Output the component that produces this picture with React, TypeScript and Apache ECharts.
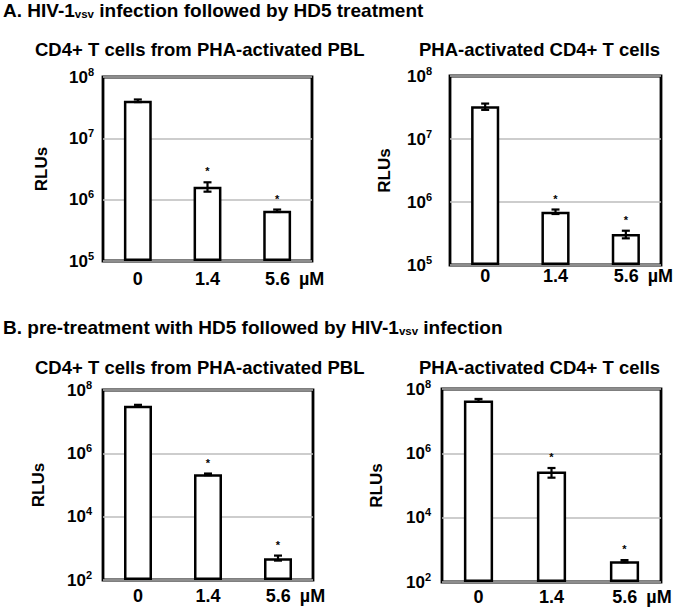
import React, { useEffect, useRef } from 'react';
import * as echarts from 'echarts';

// ---- data ----
const categories = ['0', '1.4', '5.6'];
const unitLabel = 'µM';
const significant = [false, true, true];
const yAxisTitle = 'RLUs';

const titleA = 'A. HIV-1{sub|vsv} infection followed by HD5 treatment';
const titleB = 'B. pre-treatment with HD5 followed by HIV-1{sub|vsv} infection';
const subtitlePbl = 'CD4+ T cells from PHA-activated PBL';
const subtitleCd4 = 'PHA-activated CD4+ T cells';

// A: HIV-1vsv infection followed by HD5 treatment
const aPblMean = [4.1e7, 1.63e6, 6.6e5];
const aPblLow = [3.9e7, 1.35e6, 6.3e5];
const aPblHigh = [4.3e7, 1.92e6, 6.9e5];

const aCd4Mean = [3.3e7, 7.0e5, 3.1e5];
const aCd4Low = [2.9e7, 6.45e5, 2.65e5];
const aCd4High = [3.65e7, 7.6e5, 3.5e5];

// B: pre-treatment with HD5 followed by HIV-1vsv infection
const bPblMean = [3.2e7, 2.17e5, 4.9e2];
const bPblLow = [3.0e7, 2.05e5, 4.1e2];
const bPblHigh = [3.4e7, 2.3e5, 5.9e2];

const bCd4Mean = [4.4e7, 2.7e5, 4.4e2];
const bCd4Low = [4.0e7, 1.75e5, 4.1e2];
const bCd4High = [4.9e7, 3.5e5, 4.8e2];

const aAxisMin = 1e5;
const aAxisMax = 1e8;
const aAxisStep = 1; // decades between ticks
const bAxisMin = 1e2;
const bAxisMax = 1e8;
const bAxisStep = 2;

const FONT = '"Liberation Sans", Arial, sans-serif';

type Panel = {
  grid: { left: number; top: number; width: number; height: number };
  mean: number[];
  low: number[];
  high: number[];
  min: number;
  max: number;
  step: number;
  yLabelMargin: number;
  xLabelMargin: number;
  nameGap: number;
};

const panels: Panel[] = [
  { grid: { left: 103, top: 77, width: 209, height: 184 }, mean: aPblMean, low: aPblLow, high: aPblHigh, min: aAxisMin, max: aAxisMax, step: aAxisStep, yLabelMargin: 9, xLabelMargin: 9, nameGap: 53 },
  { grid: { left: 450, top: 76, width: 211, height: 189 }, mean: aCd4Mean, low: aCd4Low, high: aCd4High, min: aAxisMin, max: aAxisMax, step: aAxisStep, yLabelMargin: 18, xLabelMargin: 2, nameGap: 57 },
  { grid: { left: 103, top: 390, width: 210, height: 190 }, mean: bPblMean, low: bPblLow, high: bPblHigh, min: bAxisMin, max: bAxisMax, step: bAxisStep, yLabelMargin: 11, xLabelMargin: 7, nameGap: 56 },
  { grid: { left: 442, top: 389, width: 219, height: 193 }, mean: bCd4Mean, low: bCd4Low, high: bCd4High, min: bAxisMin, max: bAxisMax, step: bAxisStep, yLabelMargin: 11, xLabelMargin: 6, nameGap: 57 },
];

function buildOption(): any {
  const grids = panels.map((p) => ({
    ...p.grid,
    show: true,
    borderColor: '#000',
    borderWidth: 2.8,
    backgroundColor: 'transparent',
    containLabel: false,
  }));

  const xAxes = panels.map((p, i) => ({
    type: 'category',
    gridIndex: i,
    data: categories,
    axisLine: { show: false },
    axisTick: { show: false },
    axisLabel: {
      interval: 0,
      margin: p.xLabelMargin,
      color: '#000',
      formatter: (value: string, idx: number) =>
        idx === categories.length - 1 ? `{pad|}{v|${value}}{u|${unitLabel}}` : `{v|${value}}`,
      rich: {
        v: { fontSize: 18, fontWeight: 'bold', color: '#000', fontFamily: FONT },
        pad: { width: 35 },
        u: { fontSize: 18, fontWeight: 'bold', color: '#000', fontFamily: FONT, padding: [0, 0, 0, 9] },
      },
    },
    splitLine: { show: false },
  }));

  const yAxes = panels.map((p, i) => ({
    type: 'log',
    logBase: 10,
    gridIndex: i,
    min: p.min,
    max: p.max,
    interval: p.step,
    startValue: p.min,
    name: yAxisTitle,
    nameLocation: 'middle',
    nameGap: p.nameGap,
    nameTextStyle: { fontSize: 17, fontWeight: 'bold', color: '#000', fontFamily: FONT },
    axisLine: { show: false },
    axisTick: { show: false },
    splitLine: { show: true, lineStyle: { color: '#bdbdbd', width: 1.5 } },
    axisLabel: {
      margin: p.yLabelMargin,
      color: '#000',
      formatter: (value: number) => `{n|10}{s|${Math.round(Math.log10(value))}}`,
      rich: {
        n: { fontSize: 17, fontWeight: 'bold', color: '#000', fontFamily: FONT, lineHeight: 22 },
        s: { fontSize: 11, fontWeight: 'bold', color: '#000', fontFamily: FONT, verticalAlign: 'top', lineHeight: 13 },
      },
    },
  }));

  const series: any[] = [];
  panels.forEach((p, i) => {
    series.push({
      type: 'bar',
      xAxisIndex: i,
      yAxisIndex: i,
      data: p.mean,
      barWidth: '40%',
      itemStyle: { color: '#fff', borderColor: '#000', borderWidth: 2.5 },
      emphasis: { disabled: true },
      z: 2,
    });
    series.push({
      type: 'custom',
      xAxisIndex: i,
      yAxisIndex: i,
      z: 3,
      encode: { x: 0, y: [1, 2] },
      data: categories.map((_, k) => [k, p.low[k], p.high[k], significant[k] ? 1 : 0]),
      renderItem: (params: any, api: any) => {
        const k = api.value(0);
        const lo = api.coord([k, api.value(1)]);
        const hi = api.coord([k, api.value(2)]);
        const cap = 4;
        const st = { stroke: '#000', lineWidth: 2.2 };
        const children: any[] = [
          { type: 'line', shape: { x1: lo[0], y1: lo[1], x2: hi[0], y2: hi[1] }, style: st },
          { type: 'line', shape: { x1: lo[0] - cap, y1: lo[1], x2: lo[0] + cap, y2: lo[1] }, style: st },
          { type: 'line', shape: { x1: hi[0] - cap, y1: hi[1], x2: hi[0] + cap, y2: hi[1] }, style: st },
        ];
        if (api.value(3)) {
          children.push({
            type: 'text',
            x: hi[0],
            y: hi[1] - 11,
            style: { text: '*', fontSize: 11, fontWeight: 'bold', fill: '#000', align: 'center', verticalAlign: 'middle', fontFamily: FONT },
          });
        }
        return { type: 'group', children };
      },
    });
  });

  const titleRich = {
    sub: { fontSize: 11.5, fontWeight: 'bold', color: '#000', fontFamily: FONT, verticalAlign: 'bottom', lineHeight: 16 },
  };
  const mainTitleStyle = { fontSize: 19, fontWeight: 'bold', color: '#000', fontFamily: FONT, rich: titleRich };
  const subTitleStyle = { fontSize: 18.5, fontWeight: 'bold', color: '#000', fontFamily: FONT };

  return {
    animation: false,
    backgroundColor: '#fff',
    textStyle: { fontFamily: FONT },
    title: [
      { text: titleA, left: 3, top: 1, padding: 0, textStyle: mainTitleStyle },
      { text: subtitlePbl, left: 35, top: 40, padding: 0, textStyle: subTitleStyle },
      { text: subtitleCd4, left: 419, top: 40, padding: 0, textStyle: subTitleStyle },
      { text: titleB, left: 3, top: 318, padding: 0, textStyle: mainTitleStyle },
      { text: subtitlePbl, left: 35, top: 358, padding: 0, textStyle: subTitleStyle },
      { text: subtitleCd4, left: 419, top: 358, padding: 0, textStyle: subTitleStyle },
    ],
    grid: grids,
    xAxis: xAxes,
    yAxis: yAxes,
    series,
  };
}

export default function App() {
  const ref = useRef<HTMLDivElement>(null);
  useEffect(() => {
    document.body.style.margin = '0';
    if (!ref.current) return;
    const chart = echarts.init(ref.current, undefined, { renderer: 'svg' });
    chart.setOption(buildOption());
    return () => chart.dispose();
  }, []);
  return <div ref={ref} style={{ width: 681, height: 614 }} />;
}
